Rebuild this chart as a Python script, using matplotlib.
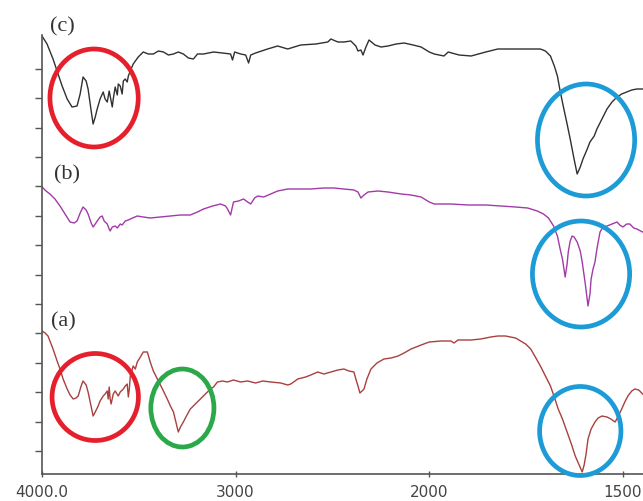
import numpy as np
import matplotlib
matplotlib.use("Agg")
import matplotlib.pyplot as plt
from matplotlib.patches import Ellipse

# ---- data (wavenumber cm-1, relative transmittance, arbitrary units) ----
wn_c = [4000, 3974, 3943, 3917, 3896, 3870, 3845, 3819, 3803, 3788, 3772, 3762, 3746, 3736, 3725, 3715,
        3700, 3684, 3674, 3663, 3653, 3648, 3637, 3632, 3622, 3611, 3606, 3596, 3586, 3580, 3570, 3560,
        3554, 3544, 3529, 3503, 3477, 3451, 3425, 3399, 3373, 3347, 3321, 3296, 3270, 3244, 3218, 3197,
        3166, 3114, 3068, 3026, 3016, 3005, 2974, 2948, 2933, 2922, 2897, 2835, 2783, 2731, 2664, 2586,
        2524, 2508, 2472, 2441, 2405, 2379, 2368, 2353, 2342, 2327, 2311, 2280, 2249, 2213, 2171, 2130,
        2083, 2042, 2000, 1987, 1962, 1951, 1923, 1892, 1854, 1823, 1790, 1764, 1738, 1713, 1700, 1687,
        1677, 1669, 1662, 1654, 1644, 1636, 1626, 1618, 1610, 1603, 1592, 1585, 1574, 1567, 1554, 1541,
        1528, 1515, 1503, 1490, 1477, 1464, 1449]
t_c = [437, 429, 414, 399, 387, 374, 366, 367, 379, 396, 392, 384, 362, 349, 356, 364,
       374, 381, 374, 371, 382, 377, 366, 374, 386, 378, 389, 387, 379, 392, 394, 391,
       397, 402, 409, 416, 421, 419, 419, 422, 421, 418, 419, 421, 419, 415, 414, 419,
       419, 421, 420, 419, 413, 421, 419, 418, 410, 418, 420, 424, 427, 424, 428, 429,
       431, 434, 431, 431, 432, 427, 422, 423, 418, 426, 433, 428, 426, 427, 429, 430,
       428, 426, 421, 419, 417, 421, 418, 417, 421, 424, 424, 424, 424, 424, 422, 417,
       407, 397, 382, 367, 349, 334, 314, 299, 306, 314, 324, 331, 337, 344, 354, 364,
       371, 376, 379, 381, 383, 384, 384]

wn_b = [4000, 3979, 3959, 3933, 3907, 3881, 3855, 3834, 3819, 3803, 3788, 3772, 3762, 3746, 3736, 3725,
        3715, 3700, 3689, 3679, 3663, 3653, 3648, 3637, 3622, 3611, 3596, 3586, 3570, 3554, 3544, 3508,
        3477, 3441, 3389, 3337, 3285, 3234, 3197, 3166, 3119, 3078, 3052, 3042, 3026, 3011, 2985, 2959,
        2938, 2922, 2902, 2886, 2855, 2819, 2783, 2731, 2679, 2612, 2544, 2493, 2441, 2389, 2368, 2353,
        2337, 2316, 2265, 2213, 2145, 2094, 2042, 2000, 1987, 1944, 1900, 1854, 1815, 1777, 1746, 1721,
        1705, 1692, 1679, 1669, 1662, 1656, 1649, 1644, 1641, 1636, 1631, 1626, 1618, 1610, 1605, 1597,
        1590, 1585, 1582, 1577, 1572, 1567, 1559, 1551, 1541, 1528, 1515, 1508, 1500, 1490, 1482, 1472,
        1464, 1449]
t_b = [286, 282, 279, 274, 267, 259, 251, 250, 252, 260, 266, 263, 259, 250, 246, 249,
       252, 256, 257, 252, 249, 244, 242, 246, 247, 245, 249, 248, 252, 253, 254, 257,
       256, 255, 256, 257, 258, 258, 261, 264, 267, 269, 267, 264, 258, 271, 272, 274,
       271, 269, 275, 277, 276, 279, 282, 284, 284, 284, 285, 285, 284, 283, 281, 275,
       278, 281, 282, 281, 279, 278, 276, 271, 269, 269, 268, 268, 267, 266, 265, 262,
       259, 255, 247, 237, 224, 214, 196, 209, 221, 232, 237, 236, 231, 222, 211, 189,
       167, 179, 194, 204, 211, 224, 241, 246, 247, 249, 251, 248, 246, 249, 249, 245,
       244, 241]

wn_a = [4000, 3984, 3969, 3959, 3943, 3922, 3907, 3891, 3870, 3855, 3839, 3824, 3813, 3798, 3788, 3772,
        3762, 3746, 3736, 3725, 3710, 3700, 3684, 3674, 3663, 3658, 3653, 3648, 3643, 3632, 3622, 3606,
        3596, 3580, 3570, 3560, 3554, 3549, 3544, 3529, 3518, 3508, 3492, 3477, 3456, 3441, 3425, 3404,
        3378, 3353, 3337, 3321, 3306, 3296, 3285, 3270, 3254, 3234, 3208, 3182, 3156, 3130, 3114, 3094,
        3068, 3042, 3011, 2974, 2938, 2897, 2860, 2819, 2767, 2731, 2715, 2679, 2638, 2612, 2576, 2544,
        2508, 2472, 2441, 2415, 2389, 2379, 2368, 2358, 2347, 2337, 2322, 2301, 2270, 2234, 2197, 2161,
        2130, 2094, 2042, 2000, 1969, 1944, 1936, 1926, 1910, 1892, 1867, 1841, 1823, 1803, 1790, 1777,
        1764, 1751, 1738, 1726, 1713, 1700, 1687, 1677, 1667, 1656, 1644, 1633, 1623, 1613, 1605, 1600,
        1595, 1590, 1582, 1572, 1564, 1554, 1541, 1531, 1520, 1513, 1503, 1495, 1487, 1477, 1469, 1459,
        1449]
t_a = [142, 140, 137, 132, 124, 112, 104, 94, 84, 78, 74, 75, 77, 87, 92, 88,
       81, 66, 57, 61, 67, 72, 77, 79, 82, 74, 86, 74, 69, 79, 82, 77,
       81, 84, 87, 89, 76, 84, 97, 107, 104, 111, 116, 121, 121, 111, 102, 94,
       84, 74, 67, 61, 49, 41, 46, 51, 57, 64, 69, 74, 79, 84, 86, 91,
       92, 91, 93, 91, 92, 90, 92, 91, 90, 88, 89, 94, 96, 98, 101, 99,
       101, 103, 104, 102, 101, 94, 87, 80, 82, 84, 94, 104, 110, 114, 115, 117,
       120, 124, 128, 131, 132, 132, 130, 133, 133, 133, 134, 136, 137, 137, 136, 135,
       132, 129, 124, 116, 107, 97, 87, 76, 64, 54, 41, 29, 17, 8, 1, 8,
       19, 34, 44, 51, 55, 57, 56, 54, 51, 56, 64, 71, 77, 82, 84, 83,
       79]

labels = ["(c)", "(b)", "(a)"]
label_pos = [(3896, 447), (3870, 299), (3891, 152)]

# highlighted regions: (centre wn, centre t, width wn, height t, colour)
ell_center_wn = [3731, 1595, 1608, 3725, 3275, 1610]
ell_center_t = [375, 333, 199, 76, 65, 42]
ell_width_wn = [456, 251, 251, 446, 326, 210]
ell_height_t = [98, 112, 106, 87, 78, 89]
ell_colors = ["#e5202c", "#1d9bd7", "#1d9bd7", "#e5202c", "#2aa84a", "#1d9bd7"]

xticks = [4000, 3000, 2000, 1500]
xticklabels = ["4000.0", "3000", "2000", "1500"]


# piecewise FTIR axis: scale doubled below 2000 cm-1
def fwd(x):
    x = np.asarray(x, dtype=float)
    return np.where(x >= 2000, x, 2 * x - 2000)


def inv(y):
    y = np.asarray(y, dtype=float)
    return np.where(y >= 2000, y, (y + 2000) / 2)


fig = plt.figure(figsize=(6.43, 5.02), dpi=100)
ax = fig.add_axes([42 / 643, 27 / 502, 601 / 643, 439 / 502])
ax.set_xscale("function", functions=(fwd, inv))
ax.set_xlim(4000, 1448)
ax.set_ylim(-1, 438)

ax.plot(wn_c, t_c, color="#303030", lw=1.0)
ax.plot(wn_b, t_b, color="#a23aa8", lw=1.0)
ax.plot(wn_a, t_a, color="#a8403f", lw=1.0)

for cx, cy, w, h, c in zip(ell_center_wn, ell_center_t, ell_width_wn, ell_height_t, ell_colors):
    e = Ellipse((cx, cy), w, h, fill=False, edgecolor=c, lw=3.4, zorder=5, clip_on=False)
    ax.add_patch(e)

for lab, (x, y) in zip(labels, label_pos):
    ax.text(x, y, lab, fontsize=16, family="Liberation Serif", ha="center", va="center",
            color="#333333", clip_on=False)

for s in ["top", "right"]:
    ax.spines[s].set_visible(False)
for s in ["left", "bottom"]:
    ax.spines[s].set_color("#555555")
    ax.spines[s].set_linewidth(1.2)

ax.set_xticks(xticks)
ax.set_xticklabels(xticklabels)
ax.xaxis.set_minor_locator(matplotlib.ticker.NullLocator())
ax.set_yticks(np.arange(14) * 29.4 + 22)
ax.set_yticklabels([])
ax.tick_params(axis="x", direction="inout", length=5, width=1, color="#555555",
               labelsize=11, labelcolor="#444444", pad=5)
ax.tick_params(axis="y", direction="out", length=5, width=1, color="#555555")

fig.savefig("out.png", dpi=100)
